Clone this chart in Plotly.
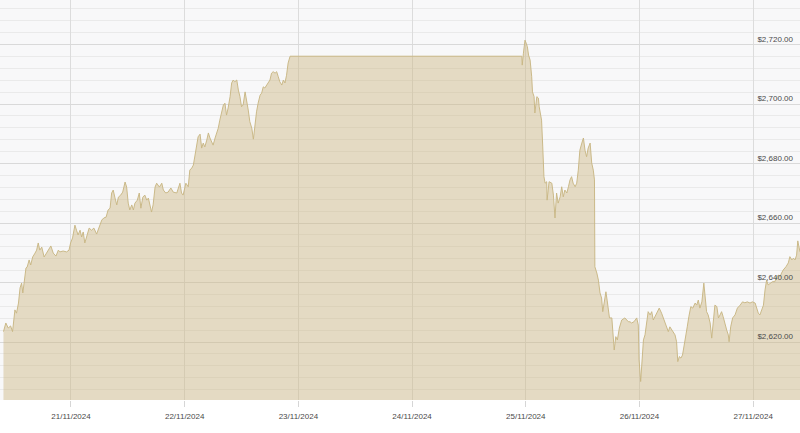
import plotly.graph_objects as go

# Gold spot price (USD) – timestamps and prices
times = [
    "2024-11-20 09:45", "2024-11-20 10:15", "2024-11-20 10:45", "2024-11-20 11:15", "2024-11-20 11:40",
    "2024-11-20 12:10", "2024-11-20 12:30", "2024-11-20 12:55", "2024-11-20 13:15", "2024-11-20 13:35",
    "2024-11-20 13:50", "2024-11-20 14:05", "2024-11-20 14:30", "2024-11-20 14:45", "2024-11-20 15:10",
    "2024-11-20 15:30", "2024-11-20 15:55", "2024-11-20 16:25", "2024-11-20 16:45", "2024-11-20 17:05",
    "2024-11-20 17:25", "2024-11-20 17:50", "2024-11-20 18:20", "2024-11-20 18:50", "2024-11-20 19:15",
    "2024-11-20 19:45", "2024-11-20 20:15", "2024-11-20 20:50", "2024-11-20 21:20", "2024-11-20 21:40",
    "2024-11-20 22:20", "2024-11-20 23:05", "2024-11-20 23:35", "2024-11-20 23:55",
    "2024-11-21 00:20", "2024-11-21 00:50", "2024-11-21 01:10", "2024-11-21 01:30", "2024-11-21 01:55",
    "2024-11-21 02:15", "2024-11-21 02:35", "2024-11-21 02:55", "2024-11-21 03:25", "2024-11-21 03:50",
    "2024-11-21 04:20", "2024-11-21 04:50", "2024-11-21 05:25", "2024-11-21 06:00", "2024-11-21 06:30",
    "2024-11-21 06:55", "2024-11-21 07:25", "2024-11-21 07:50", "2024-11-21 08:15", "2024-11-21 08:35",
    "2024-11-21 08:55", "2024-11-21 09:15", "2024-11-21 09:40", "2024-11-21 10:00", "2024-11-21 10:30",
    "2024-11-21 10:55", "2024-11-21 11:25", "2024-11-21 11:45", "2024-11-21 12:05", "2024-11-21 12:25",
    "2024-11-21 12:50", "2024-11-21 13:10", "2024-11-21 13:30", "2024-11-21 14:00", "2024-11-21 14:25",
    "2024-11-21 14:45", "2024-11-21 15:10", "2024-11-21 15:35", "2024-11-21 16:00", "2024-11-21 16:20",
    "2024-11-21 16:40", "2024-11-21 17:00", "2024-11-21 17:20", "2024-11-21 17:45", "2024-11-21 18:05",
    "2024-11-21 18:40", "2024-11-21 19:10", "2024-11-21 19:30", "2024-11-21 20:00", "2024-11-21 20:30",
    "2024-11-21 21:05", "2024-11-21 21:35", "2024-11-21 22:20", "2024-11-21 23:00", "2024-11-21 23:20",
    "2024-11-21 23:40",
    "2024-11-22 00:15", "2024-11-22 00:45", "2024-11-22 01:05", "2024-11-22 01:30", "2024-11-22 01:50",
    "2024-11-22 02:10", "2024-11-22 02:30", "2024-11-22 02:50", "2024-11-22 03:15", "2024-11-22 03:35",
    "2024-11-22 03:55", "2024-11-22 04:15", "2024-11-22 04:40", "2024-11-22 05:00", "2024-11-22 05:20",
    "2024-11-22 05:40", "2024-11-22 06:00", "2024-11-22 06:25", "2024-11-22 06:45", "2024-11-22 07:05",
    "2024-11-22 07:25", "2024-11-22 07:50", "2024-11-22 08:10", "2024-11-22 08:30", "2024-11-22 08:50",
    "2024-11-22 09:10", "2024-11-22 09:35", "2024-11-22 09:55", "2024-11-22 10:15", "2024-11-22 10:35",
    "2024-11-22 11:00", "2024-11-22 11:20", "2024-11-22 11:40", "2024-11-22 12:00", "2024-11-22 12:20",
    "2024-11-22 12:45", "2024-11-22 13:05", "2024-11-22 13:25", "2024-11-22 13:45", "2024-11-22 14:10",
    "2024-11-22 14:30", "2024-11-22 14:50", "2024-11-22 15:10", "2024-11-22 15:30", "2024-11-22 15:55",
    "2024-11-22 16:15", "2024-11-22 16:35", "2024-11-22 16:55", "2024-11-22 17:20", "2024-11-22 17:40",
    "2024-11-22 18:00", "2024-11-22 18:20", "2024-11-22 18:40", "2024-11-22 19:05", "2024-11-22 19:25",
    "2024-11-22 19:45", "2024-11-22 20:05", "2024-11-22 20:30", "2024-11-22 20:50", "2024-11-22 21:10",
    "2024-11-22 21:30", "2024-11-22 21:50", "2024-11-22 22:15",
    "2024-11-24 23:10", "2024-11-24 23:15", "2024-11-24 23:30", "2024-11-24 23:50",
    "2024-11-25 00:05", "2024-11-25 00:20", "2024-11-25 00:35", "2024-11-25 00:55", "2024-11-25 01:15",
    "2024-11-25 01:25", "2024-11-25 01:45", "2024-11-25 01:55", "2024-11-25 02:20", "2024-11-25 02:40",
    "2024-11-25 02:50", "2024-11-25 03:10", "2024-11-25 03:20", "2024-11-25 03:35", "2024-11-25 03:50",
    "2024-11-25 04:05", "2024-11-25 04:25", "2024-11-25 04:30", "2024-11-25 04:55", "2024-11-25 05:30",
    "2024-11-25 05:50", "2024-11-25 06:10", "2024-11-25 06:30", "2024-11-25 06:50", "2024-11-25 07:15",
    "2024-11-25 07:35", "2024-11-25 07:55", "2024-11-25 08:15", "2024-11-25 08:40", "2024-11-25 09:00",
    "2024-11-25 09:20", "2024-11-25 09:40", "2024-11-25 10:00", "2024-11-25 10:25", "2024-11-25 10:45",
    "2024-11-25 11:05", "2024-11-25 11:25", "2024-11-25 11:50", "2024-11-25 12:10", "2024-11-25 12:30",
    "2024-11-25 12:50", "2024-11-25 13:10", "2024-11-25 13:35", "2024-11-25 13:55", "2024-11-25 14:15",
    "2024-11-25 14:30", "2024-11-25 14:35", "2024-11-25 15:00", "2024-11-25 15:20", "2024-11-25 15:40",
    "2024-11-25 16:00", "2024-11-25 16:15", "2024-11-25 16:30", "2024-11-25 16:55", "2024-11-25 17:10",
    "2024-11-25 17:40", "2024-11-25 18:10", "2024-11-25 18:30", "2024-11-25 18:40", "2024-11-25 19:00",
    "2024-11-25 19:20", "2024-11-25 19:45", "2024-11-25 20:15", "2024-11-25 20:55", "2024-11-25 21:20",
    "2024-11-25 21:40", "2024-11-25 22:00", "2024-11-25 22:20", "2024-11-25 22:50", "2024-11-25 23:25",
    "2024-11-25 23:45", "2024-11-25 23:55",
    "2024-11-26 00:15", "2024-11-26 00:30", "2024-11-26 00:50", "2024-11-26 01:10", "2024-11-26 01:30",
    "2024-11-26 01:50", "2024-11-26 02:15", "2024-11-26 02:35", "2024-11-26 02:55", "2024-11-26 03:15",
    "2024-11-26 03:45", "2024-11-26 04:10", "2024-11-26 04:40", "2024-11-26 05:10", "2024-11-26 05:35",
    "2024-11-26 06:05", "2024-11-26 06:25", "2024-11-26 07:00", "2024-11-26 07:30", "2024-11-26 07:50",
    "2024-11-26 08:05", "2024-11-26 08:25", "2024-11-26 08:45", "2024-11-26 09:05", "2024-11-26 09:25",
    "2024-11-26 09:50", "2024-11-26 10:05", "2024-11-26 10:25", "2024-11-26 10:50", "2024-11-26 11:15",
    "2024-11-26 11:45", "2024-11-26 12:05", "2024-11-26 12:25", "2024-11-26 12:45", "2024-11-26 13:10",
    "2024-11-26 13:35", "2024-11-26 13:55", "2024-11-26 14:10", "2024-11-26 14:30", "2024-11-26 14:55",
    "2024-11-26 15:15", "2024-11-26 15:35", "2024-11-26 15:55", "2024-11-26 16:20", "2024-11-26 16:40",
    "2024-11-26 17:00", "2024-11-26 17:20", "2024-11-26 17:40", "2024-11-26 18:05", "2024-11-26 18:25",
    "2024-11-26 18:45", "2024-11-26 18:55", "2024-11-26 19:15", "2024-11-26 19:40", "2024-11-26 20:10",
    "2024-11-26 20:40", "2024-11-26 21:15", "2024-11-26 21:45", "2024-11-26 22:15", "2024-11-26 22:45",
    "2024-11-26 23:20", "2024-11-26 23:50",
    "2024-11-27 00:25", "2024-11-27 00:45", "2024-11-27 01:05", "2024-11-27 01:25", "2024-11-27 01:50",
    "2024-11-27 02:10", "2024-11-27 02:30", "2024-11-27 02:50", "2024-11-27 03:10", "2024-11-27 03:35",
    "2024-11-27 04:05", "2024-11-27 04:35", "2024-11-27 04:55", "2024-11-27 05:20", "2024-11-27 05:40",
    "2024-11-27 06:00", "2024-11-27 06:20", "2024-11-27 06:55", "2024-11-27 07:25", "2024-11-27 07:45",
    "2024-11-27 08:10", "2024-11-27 08:30", "2024-11-27 08:50", "2024-11-27 09:10", "2024-11-27 09:25",
    "2024-11-27 09:53",
]

prices = [
    2623.5, 2626.4, 2624.7, 2625.4, 2623.5,
    2630.8, 2629.7, 2633.1, 2638.2, 2639.8,
    2636.5, 2639.8, 2644.9, 2645.2, 2647.6,
    2645.9, 2648.6, 2649.9, 2650.9, 2653.3,
    2650.9, 2651.9, 2648.6, 2649.9, 2650.9,
    2652.3, 2649.9, 2648.9, 2650.9, 2650.3,
    2650.6, 2650.3, 2650.9, 2653.3,
    2655.0, 2659.3, 2657.6, 2656.0, 2657.6,
    2655.3, 2657.0, 2653.3, 2656.0, 2658.3,
    2657.6, 2658.3, 2656.3, 2658.7, 2661.0,
    2661.7, 2662.0, 2664.4, 2665.0, 2670.1,
    2671.1, 2668.7, 2666.1, 2668.7, 2669.4,
    2670.4, 2673.8, 2672.1, 2666.7, 2664.4,
    2666.1, 2664.4, 2666.7, 2667.7, 2670.1,
    2665.0, 2668.7, 2669.4, 2667.7, 2668.4,
    2665.4, 2663.7, 2666.1, 2672.1, 2673.4,
    2672.1, 2673.4, 2671.1, 2670.1, 2670.4,
    2671.8, 2670.4, 2670.1, 2673.4, 2670.1,
    2669.4,
    2673.4, 2672.2, 2677.8, 2678.5, 2679.5,
    2682.3, 2685.6, 2689.0, 2689.9, 2685.2,
    2686.9, 2685.6, 2687.9, 2690.3, 2688.6,
    2687.3, 2686.2, 2688.6, 2690.3, 2691.9,
    2694.6, 2697.4, 2699.7, 2700.3, 2696.3,
    2698.7, 2702.5, 2707.1, 2708.1, 2707.5,
    2708.1, 2704.7, 2702.5, 2699.1, 2699.7,
    2704.1, 2701.3, 2698.0, 2694.1, 2691.9,
    2688.2, 2694.1, 2697.4, 2700.3, 2703.0,
    2703.7, 2705.8, 2705.4, 2706.4, 2707.1,
    2708.1, 2710.4, 2710.9, 2710.4, 2710.9,
    2709.2, 2707.5, 2706.4, 2708.1, 2707.1,
    2709.7, 2713.8, 2716.1,
    2716.1, 2713.1, 2717.1, 2721.5,
    2720.5, 2719.3, 2716.5, 2714.8, 2709.2,
    2704.1, 2702.5, 2697.0, 2702.5, 2702.0,
    2699.1, 2695.7, 2694.6, 2685.6, 2675.6,
    2673.4, 2673.9, 2667.7, 2673.9, 2673.4,
    2669.4, 2661.7, 2670.1, 2666.7, 2668.8,
    2672.2, 2668.8, 2671.1, 2670.1, 2672.2,
    2674.5, 2675.6, 2673.4, 2672.2, 2673.4,
    2677.8, 2684.5, 2686.9, 2688.6, 2684.5,
    2682.3, 2685.2, 2686.9, 2680.2, 2677.8,
    2674.5, 2645.3, 2643.2, 2640.8, 2636.5,
    2634.8, 2630.2, 2633.1, 2636.9, 2634.1,
    2628.1, 2628.1, 2621.3, 2617.3, 2621.8,
    2620.7, 2624.7, 2627.4, 2628.1, 2627.4,
    2626.8, 2626.8, 2626.4, 2626.8, 2628.1,
    2625.7, 2614.0,
    2606.7, 2612.9, 2620.7, 2622.4, 2627.4,
    2630.2, 2629.1, 2630.2, 2627.4, 2628.5,
    2630.2, 2631.4, 2629.7, 2627.4, 2625.1,
    2623.5, 2625.1, 2623.5, 2622.4, 2620.1,
    2613.4, 2615.1, 2614.6, 2615.6, 2618.4,
    2621.8, 2625.1, 2628.5, 2631.9, 2631.4,
    2633.1, 2632.4, 2634.1, 2631.4, 2633.5,
    2639.8, 2634.1, 2630.2, 2629.1, 2626.4,
    2621.3, 2626.8, 2632.4, 2631.9, 2628.1,
    2629.1, 2630.2, 2628.5, 2625.7, 2624.0,
    2622.4, 2620.1, 2625.1, 2628.1, 2629.1,
    2631.4, 2632.4, 2633.5, 2633.2, 2633.5,
    2633.1, 2633.5,
    2633.1, 2631.4, 2629.7, 2629.1, 2631.4,
    2632.4, 2637.5, 2640.8, 2639.2, 2639.8,
    2640.3, 2640.3, 2641.9, 2642.5, 2641.9,
    2643.2, 2644.2, 2645.3, 2646.6, 2648.7,
    2647.6, 2648.2, 2647.6, 2649.2, 2654.0,
    2650.3,
]

x_range = ["2024-11-20 09:01", "2024-11-27 09:53"]
y_range = [2600.5, 2735.0]

font_family = "Liberation Sans, Arial, sans-serif"
text_color = "#4a4a4a"

fig = go.Figure()
fig.add_trace(go.Scatter(
    x=times, y=prices, mode="lines",
    line=dict(color="rgba(200,182,132,0.95)", width=1),
    fill="tozeroy", fillcolor="rgba(204,182,128,0.45)",
    hoverinfo="skip", showlegend=False,
))

fig.update_layout(
    width=800, height=433,
    margin=dict(l=0, r=0, t=0, b=33, pad=0),
    paper_bgcolor="#ffffff",
    plot_bgcolor="#f8f8f9",
    font=dict(family=font_family, size=8, color=text_color),
    showlegend=False,
)

fig.update_xaxes(
    type="date", range=x_range, automargin=False,
    dtick=86400000, tick0="2024-11-21",
    tickformat="%d/%m/%Y",
    showgrid=True, gridcolor="#dcdcdc", gridwidth=1,
    ticks="outside", ticklen=6, tickcolor="#d6d6d6", tickwidth=1,
    ticklabelstandoff=2,
    showline=False, zeroline=False,
    tickfont=dict(size=8, color=text_color),
)

fig.update_yaxes(
    range=y_range, side="right", automargin=False,
    ticklabelposition="inside top", ticklabeloverflow="allow",
    ticklabelstandoff=4,
    tick0=0, dtick=20, tickformat="$,.2f",
    showgrid=True, gridcolor="#d9d9d9", gridwidth=1,
    minor=dict(dtick=4, tick0=0, showgrid=True, gridcolor="#eaeaea", gridwidth=1),
    ticks="", showline=False, zeroline=False,
    tickfont=dict(size=8, color=text_color),
)

fig.write_html(
    "out.html",
    config={"displayModeBar": False},
    post_script="document.body.style.margin='0';document.body.style.overflow='hidden';",
)
